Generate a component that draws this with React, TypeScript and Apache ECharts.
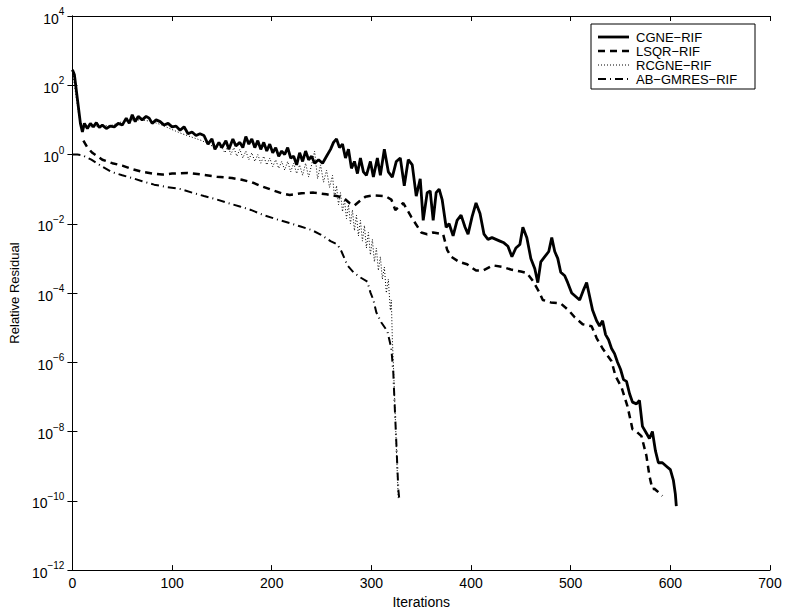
import React, { useEffect, useRef } from "react";
import * as echarts from "echarts";

// ---- data (iteration, log10 of relative residual) ----
const cgneIter = [0, 2, 5, 8, 10, 12, 15, 18, 21, 24, 27, 30, 34, 38, 42, 46, 50, 54, 57, 60, 63, 66, 70, 74, 77, 80, 84, 88, 92, 96, 100, 104, 108, 112, 116, 120, 124, 128, 132, 136, 140, 143, 147, 150, 154, 157, 161, 164, 168, 171, 174, 177, 180, 183, 186, 189, 192, 195, 198, 201, 204, 207, 210, 213, 216, 219, 222, 225, 228, 231, 234, 237, 240, 243, 247, 251, 255, 259, 262, 265, 268, 271, 274, 277, 280, 283, 286, 289, 292, 295, 299, 302, 306, 309, 313, 317, 321, 325, 329, 333, 337, 341, 345, 349, 352, 356, 359, 362, 365, 368, 371, 375, 378, 382, 386, 390, 394, 397, 401, 405, 409, 413, 417, 421, 425, 429, 433, 437, 441, 445, 449, 452, 456, 460, 464, 467, 470, 474, 478, 481, 484, 487, 490, 494, 497, 501, 505, 509, 513, 516, 519, 522, 526, 529, 532, 535, 538, 541, 544, 547, 550, 553, 556, 559, 562, 566, 569, 572, 576, 579, 582, 585, 588, 592, 596, 600, 603, 605, 606];
const cgneLog = [2.45, 2.3, 1.6, 0.9, 0.65, 0.9, 0.75, 0.9, 0.8, 0.92, 0.78, 0.85, 0.75, 0.82, 0.8, 0.9, 0.85, 1.05, 0.9, 1.15, 0.95, 1.1, 1.0, 1.1, 1.05, 0.9, 1.0, 0.95, 0.85, 0.9, 0.8, 0.82, 0.7, 0.8, 0.6, 0.65, 0.55, 0.6, 0.55, 0.3, 0.45, 0.15, 0.35, 0.2, 0.4, 0.15, 0.45, 0.25, 0.35, 0.2, 0.52, 0.3, 0.45, 0.2, 0.4, 0.15, 0.35, 0.1, 0.3, 0.05, 0.2, -0.05, 0.1, 0.0, 0.2, -0.1, -0.05, -0.3, 0.05, -0.2, 0.1, -0.15, -0.05, -0.25, -0.15, -0.25, -0.05, 0.15, 0.35, 0.45, 0.2, 0.3, -0.1, 0.15, -0.4, -0.2, -0.55, -0.1, -0.5, -0.6, -0.2, -0.65, -0.1, -0.6, 0.15, -0.5, -0.65, -0.2, -0.1, -0.9, -0.15, -0.3, -1.2, -0.7, -1.9, -1.1, -1.05, -1.9, -1.1, -1.0, -1.3, -2.1, -2.0, -2.35, -1.9, -1.75, -2.1, -2.3, -1.8, -1.4, -1.7, -2.3, -2.45, -2.4, -2.45, -2.5, -2.55, -2.65, -2.95, -2.7, -2.6, -2.1, -2.4, -3.0, -3.3, -3.7, -3.1, -2.95, -2.8, -2.4, -2.8, -3.0, -3.4, -3.5, -3.7, -4.0, -4.1, -4.2, -3.9, -3.7, -4.1, -4.5, -4.8, -4.95, -4.8, -5.2, -5.35, -5.6, -5.75, -6.0, -6.2, -6.5, -6.55, -6.9, -7.15, -7.2, -7.1, -7.85, -8.05, -8.2, -8.0, -8.55, -8.9, -8.9, -9.0, -9.1, -9.4, -9.8, -10.15];

const lsqrIter = [11, 15, 20, 25, 30, 40, 50, 60, 70, 80, 90, 100, 115, 130, 145, 160, 170, 180, 190, 200, 210, 218, 230, 242, 255, 265, 272, 278, 283, 288, 294, 302, 314, 320, 324, 328, 332, 340, 350, 356, 362, 372, 376, 380, 388, 396, 405, 412, 422, 432, 440, 450, 456, 462, 468, 472, 480, 490, 498, 504, 512, 521, 526, 532, 541, 545, 551, 557, 562, 566, 571, 576, 579, 582, 584, 586, 590, 592];
const lsqrLog = [0.4, 0.2, 0.05, -0.05, -0.15, -0.25, -0.32, -0.42, -0.5, -0.55, -0.58, -0.55, -0.53, -0.58, -0.64, -0.68, -0.73, -0.8, -0.92, -1.02, -1.12, -1.17, -1.12, -1.1, -1.15, -1.2, -1.25, -1.4, -1.47, -1.35, -1.22, -1.18, -1.2, -1.3, -1.6, -1.5, -1.4, -1.8, -2.25, -2.3, -2.25, -2.3, -2.75, -2.95, -3.1, -3.17, -3.35, -3.35, -3.2, -3.25, -3.32, -3.38, -3.42, -3.65, -3.95, -4.2, -4.27, -4.3, -4.5, -4.7, -4.9, -4.96, -5.3, -5.6, -5.97, -6.4, -6.72, -7.27, -7.93, -8.0, -8.13, -8.7, -9.28, -9.66, -9.65, -9.7, -9.8, -9.86];

const rcgneIter = [0, 3, 6, 9, 12, 20, 30, 40, 50, 60, 70, 80, 90, 100, 110, 120, 130, 140, 150, 153, 156, 159, 162, 165, 168, 171, 174, 177, 180, 183, 186, 189, 192, 195, 198, 201, 204, 207, 210, 213, 216, 219, 222, 225, 228, 231, 234, 237, 240, 243, 246, 249, 252, 255, 258, 261, 263, 265, 267, 269, 271, 273, 275, 277, 279, 281, 283, 285, 287, 289, 291, 293, 295, 297, 299, 301, 303, 305, 307, 309, 311, 313, 315, 317, 319, 320, 321, 322, 323, 324, 325, 326, 327];
const rcgneLog = [2.44, 1.8, 1.2, 0.75, 0.8, 0.8, 0.82, 0.85, 0.95, 1.0, 1.0, 0.95, 0.85, 0.72, 0.6, 0.5, 0.4, 0.25, 0.2, 0.05, 0.25, 0.0, 0.2, -0.05, 0.15, -0.1, 0.1, -0.15, 0.05, -0.2, 0.0, -0.25, -0.05, -0.3, -0.1, -0.35, -0.15, -0.4, -0.2, -0.45, -0.2, -0.5, -0.25, -0.55, -0.3, -0.6, -0.25, -0.65, -0.3, 0.1, -0.7, -0.3, -0.8, -0.45, -0.95, -0.6, -1.25, -0.9, -1.45, -1.1, -1.65, -1.3, -1.85, -1.45, -2.0, -1.6, -2.2, -1.75, -2.35, -1.9, -2.5, -2.05, -2.7, -2.25, -2.9, -2.45, -3.1, -2.7, -3.35, -2.95, -3.6, -3.25, -4.0, -3.6, -4.5, -4.2, -5.3, -6.0, -6.8, -7.6, -8.4, -9.2, -9.95];

const abIter = [0, 5, 10, 19, 30, 39, 50, 59, 70, 82, 95, 109, 120, 132, 145, 156, 168, 179, 192, 206, 218, 229, 240, 249, 259, 266, 270, 273, 276, 282, 289, 296, 299, 302, 305, 310, 316, 320, 322, 323, 325, 326, 327, 328];
const abLog = [0.0, 0.0, -0.02, -0.15, -0.35, -0.5, -0.6, -0.67, -0.77, -0.87, -0.94, -1.0, -1.1, -1.2, -1.3, -1.4, -1.5, -1.6, -1.75, -1.88, -1.98, -2.08, -2.18, -2.31, -2.5, -2.6, -2.8, -3.0, -3.2, -3.4, -3.55, -3.67, -3.98, -4.2, -4.56, -4.85, -5.1, -5.6, -6.3, -7.0, -8.3, -9.0, -9.66, -9.95];

const seriesNames = ["CGNE\u2212RIF", "LSQR\u2212RIF", "RCGNE\u2212RIF", "AB\u2212GMRES\u2212RIF"];
const xTicks = [0, 100, 200, 300, 400, 500, 600, 700];
const yMinExp = -12;
const yMaxExp = 4;

const FONT = "Liberation Sans, Arial, Helvetica, sans-serif";

const styles = [
  { width: 2.8, dash: null as number[] | null },
  { width: 2.5, dash: [7, 5] },
  { width: 1, dash: [1, 2] },
  { width: 2, dash: [8, 4, 1, 4] },
];

function pairs(iters: number[], logs: number[]) {
  return iters.map((it, i) => [it, Math.pow(10, logs[i])]);
}

export default function App() {
  const ref = useRef<HTMLDivElement>(null);
  useEffect(() => {
    if (!ref.current) return;
    const chart = echarts.init(ref.current, undefined, { renderer: "svg" });
    const yLabel = (v: number) => {
      const e = Math.round(Math.log10(v));
      const s = e < 0 ? "\u2212" + Math.abs(e) : String(e);
      return `{b|10}{s|${s}}`;
    };
    const common = {
      type: "line",
      showSymbol: false,
      symbol: "none",
      smooth: false,
    };
    const mk = (idx: number) => ({
      color: "#000",
      width: styles[idx].width,
      type: styles[idx].dash ? styles[idx].dash : "solid",
    });

    // legend drawn as graphic elements
    const lgX = 591, lgY = 24, lgW = 164, lgH = 65;
    const rowY = [37, 51, 65, 79];
    const legendEls: any[] = [
      {
        type: "rect",
        shape: { x: lgX, y: lgY, width: lgW, height: lgH },
        style: { fill: "#fff", stroke: "#000", lineWidth: 1 },
        z: 100,
      },
    ];
    seriesNames.forEach((n, i) => {
      legendEls.push({
        type: "line",
        shape: { x1: lgX + 7, y1: rowY[i], x2: lgX + 38, y2: rowY[i] },
        style: {
          stroke: "#000",
          lineWidth: styles[i].width,
          lineDash: styles[i].dash || undefined,
        },
        z: 101,
      });
      legendEls.push({
        type: "text",
        x: lgX + 45,
        y: rowY[i],
        style: {
          text: n,
          fontFamily: FONT,
          fontSize: 13,
          fill: "#000",
          verticalAlign: "middle",
          align: "left",
        },
        z: 101,
      });
    });

    chart.setOption({
      animation: false,
      backgroundColor: "#fff",
      grid: { left: 72, right: 16, top: 16, bottom: 43 },
      graphic: legendEls,
      xAxis: [
        {
          type: "value",
          min: 0,
          max: 700,
          interval: 100,
          position: "bottom",
          name: "Iterations",
          nameLocation: "middle",
          nameGap: 23,
          nameTextStyle: { fontFamily: FONT, fontSize: 14, color: "#000" },
          axisLine: { show: true, lineStyle: { color: "#000", width: 1 } },
          axisTick: { show: true, inside: true, length: 5, lineStyle: { color: "#000" } },
          axisLabel: {
            fontFamily: FONT,
            fontSize: 14,
            color: "#000",
            margin: 6,
            formatter: (v: number) => (xTicks.includes(v) ? String(v) : ""),
          },
          splitLine: { show: false },
        },
        {
          type: "value",
          min: 0,
          max: 700,
          interval: 100,
          position: "top",
          axisLine: { show: true, lineStyle: { color: "#000", width: 1 } },
          axisTick: { show: true, inside: true, length: 5, lineStyle: { color: "#000" } },
          axisLabel: { show: false },
          splitLine: { show: false },
        },
      ],
      yAxis: [
        {
          type: "log",
          logBase: 10,
          min: Math.pow(10, yMinExp),
          max: Math.pow(10, yMaxExp),
          interval: 2,
          position: "left",
          name: "Relative Residual",
          nameLocation: "middle",
          nameGap: 49,
          nameRotate: 90,
          nameTextStyle: { fontFamily: FONT, fontSize: 13, color: "#000" },
          axisLine: { show: true, lineStyle: { color: "#000", width: 1 } },
          axisTick: { show: true, inside: true, length: 5, lineStyle: { color: "#000" } },
          minorTick: { show: false },
          axisLabel: {
            margin: 8,
            formatter: yLabel,
            rich: {
              b: { fontFamily: FONT, fontSize: 14, color: "#000", lineHeight: 19, verticalAlign: "bottom" },
              s: { fontFamily: FONT, fontSize: 10, color: "#000", lineHeight: 10, verticalAlign: "top" },
            },
          },
          splitLine: { show: false },
        },
        {
          type: "log",
          logBase: 10,
          min: Math.pow(10, yMinExp),
          max: Math.pow(10, yMaxExp),
          interval: 2,
          position: "right",
          axisLine: { show: true, lineStyle: { color: "#000", width: 1 } },
          axisTick: { show: true, inside: true, length: 5, lineStyle: { color: "#000" } },
          axisLabel: { show: false },
          splitLine: { show: false },
        },
      ],
      series: [
        { ...common, name: seriesNames[2], z: 1, data: pairs(rcgneIter, rcgneLog), lineStyle: mk(2) },
        { ...common, name: seriesNames[0], z: 3, data: pairs(cgneIter, cgneLog), lineStyle: mk(0) },
        { ...common, name: seriesNames[1], z: 2, data: pairs(lsqrIter, lsqrLog), lineStyle: mk(1) },
        { ...common, name: seriesNames[3], z: 2, data: pairs(abIter, abLog), lineStyle: mk(3) },
      ],
    });
    return () => chart.dispose();
  }, []);
  return <div ref={ref} style={{ width: 786, height: 614, position: "absolute", left: 0, top: 0 }} />;
}
